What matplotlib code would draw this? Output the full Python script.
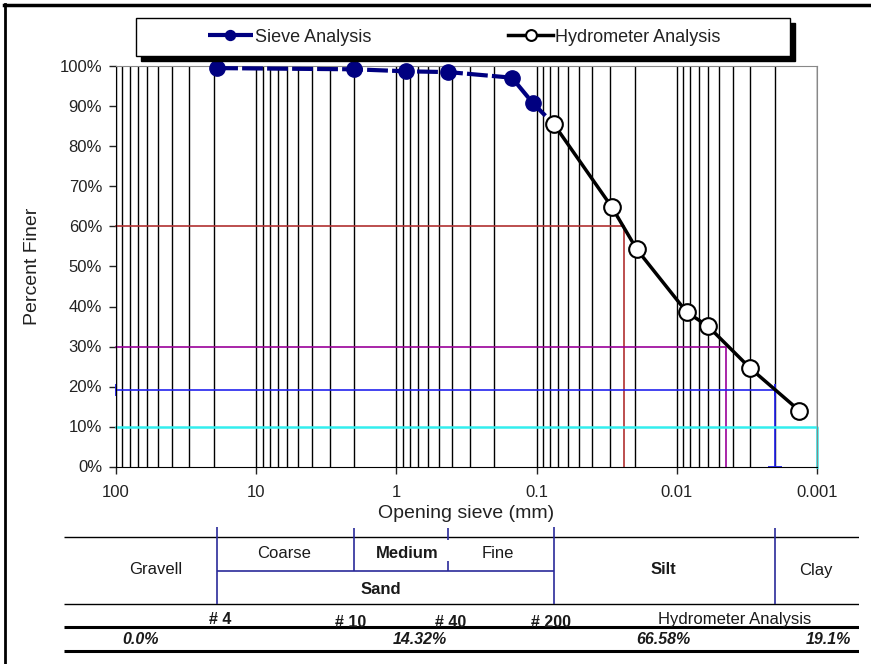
import matplotlib
matplotlib.use('Agg')
import matplotlib.pyplot as plt
import matplotlib.ticker as mticker
from matplotlib.lines import Line2D
from matplotlib.patches import Rectangle

plt.rcParams['font.family'] = ['Liberation Sans', 'DejaVu Sans']

# sieve analysis (mm, % finer)
sieve_mm = [19.0, 2.0, 0.85, 0.425, 0.15, 0.106, 0.075]
sieve_pct = [99.6, 99.3, 98.8, 98.6, 97.2, 90.8, 85.5]

# hydrometer analysis
hydro_mm = [0.075, 0.029, 0.0193, 0.0085, 0.006, 0.003, 0.00134]
hydro_pct = [85.5, 64.8, 54.3, 38.6, 35.1, 24.6, 14.0]

# D60 / D30 / clay fraction / D10 guide lines
ref_pct = [60, 30, 19.1, 10]
ref_mm = [0.0238, 0.00446, 0.002, 0.001]
ref_colors = ['#b03030', '#990099', '#2222ee', '#33eeee']

# classification table
bounds_mm = [19.0, 2.0, 0.425, 0.075, 0.002]
sieve_names = ['# 4', '# 10', '# 40', '# 200']
fractions = ['0.0%', '14.32%', '66.58%', '19.1%']

xticks = [100, 10, 1, 0.1, 0.01, 0.001]
xtick_labels = ['100', '10', '1', '0.1', '0.01', '0.001']
yticks = list(range(0, 101, 10))

W, H = 871, 664
def fx(px): return px / W
def fy(py): return 1 - py / H

fig = plt.figure(figsize=(W / 100, H / 100), dpi=100)

ax = fig.add_axes([fx(116), fy(466.5), fx(817) - fx(116), (466.5 - 66.5) / H])
ax.set_xscale('log')
ax.set_xlim(100, 0.001)
ax.set_ylim(0, 100)

ax.xaxis.set_major_locator(mticker.FixedLocator(xticks))
ax.xaxis.set_major_formatter(mticker.FixedFormatter(xtick_labels))
ax.xaxis.set_minor_locator(mticker.LogLocator(base=10, subs=range(2, 10), numticks=20))
ax.xaxis.set_minor_formatter(mticker.NullFormatter())
ax.set_yticks(yticks)
ax.set_yticklabels([f'{v}%' for v in yticks])
ax.tick_params(axis='x', which='major', length=5, width=1, direction='out', pad=8, labelsize=12, colors='#222222')
ax.tick_params(axis='x', which='minor', length=0)
ax.tick_params(axis='y', length=5, width=1, direction='out', pad=5, labelsize=12, colors='#222222')
ax.grid(True, which='both', axis='x', color='black', lw=1)
ax.set_axisbelow(True)
for s in ['top', 'right']:
    ax.spines[s].set_color('#888888')
for s in ['left', 'bottom']:
    ax.spines[s].set_color('black')

ax.set_xlabel('Opening sieve (mm)', fontsize=14, labelpad=4, color='#222222')
ax.set_ylabel('Percent Finer', fontsize=14, labelpad=13, color='#222222')

# guide lines
for p, d, c in zip(ref_pct, ref_mm, ref_colors):
    lw = 1.8 if c == '#33eeee' else 1.2
    ax.plot([100, d, d], [p, p, 0], color=c, lw=lw, zorder=2, clip_on=False)
ax.plot([100, ref_mm[2]], [ref_pct[2], ref_pct[2]], ls='none', marker='|', ms=8, mew=1.3,
        color=ref_colors[2], zorder=2, clip_on=False)
ax.plot([ref_mm[2]], [0], ls='none', marker='_', ms=10, mew=1.3, color=ref_colors[2], zorder=2, clip_on=False)

ax.plot(sieve_mm, sieve_pct, color='#000080', lw=3, ls=(0, (5, 1)), marker='o', ms=11,
        mec='#000080', mfc='#000080', zorder=4, clip_on=False, label='Sieve Analysis')
ax.plot(hydro_mm, hydro_pct, color='black', lw=2.5, marker='o', ms=12, mfc='white',
        mec='black', mew=1.5, zorder=5, clip_on=False, label='Hydrometer Analysis')

# legend box with shadow
fig.add_artist(Rectangle((fx(141), fy(61)), fx(790) - fx(136), (56 - 18) / H,
                         transform=fig.transFigure, fc='black', ec='black', zorder=9))
fig.add_artist(Rectangle((fx(136), fy(56)), fx(790) - fx(136), (56 - 18) / H,
                         transform=fig.transFigure, fc='white', ec='black', lw=1, zorder=10))
handles, labels = ax.get_legend_handles_labels()
leg = fig.legend(handles, labels, loc='center', bbox_to_anchor=(fx(464), fy(37)),
                 ncol=2, frameon=False, fontsize=13, handlelength=2.5, handletextpad=0.1,
                 columnspacing=7.6, markerscale=0.65)
leg.set_zorder(11)
for t in leg.get_texts():
    t.set_color('#222222')

# classification table below the axis
dec = (817 - 116) / 5
tab = fig.add_axes([fx(64), fy(655), fx(859) - fx(64), (655 - 525) / H])
tab.set_xscale('log')
xl = 100 * 10 ** ((116 - 64) / dec)
xr = 0.001 / 10 ** ((859 - 817) / dec)
tab.set_xlim(xl, xr)
tab.set_ylim(655, 525)
tab.axis('off')

tab.hlines([537, 604], xr, xl, color='black', lw=1)
tab.hlines([627, 651], xr, xl, color='black', lw=2.2)
blue = '#2a2a9a'
tab.hlines(571, bounds_mm[3], bounds_mm[0], color=blue, lw=1.2)
tab.vlines(bounds_mm[0], 527, 604, color=blue, lw=1.2)
tab.vlines(bounds_mm[1], 528, 571, color=blue, lw=1.2)
tab.vlines(bounds_mm[2], 528, 540, color=blue, lw=1.2)
tab.vlines(bounds_mm[2], 561, 571, color=blue, lw=1.2)
tab.vlines(bounds_mm[3], 527, 604, color=blue, lw=1.2)
tab.vlines(bounds_mm[4], 528, 604, color=blue, lw=1.2)

tc = '#1a1a1a'
tab.text(52, 570, 'Gravell', ha='center', va='center', fontsize=12, color=tc)
tab.text(6.3, 553, 'Coarse', ha='center', va='center', fontsize=12, color=tc)
tab.text(0.84, 553, 'Medium', ha='center', va='center', fontsize=12, fontweight='bold', color=tc)
tab.text(0.19, 553, 'Fine', ha='center', va='center', fontsize=12, color=tc)
tab.text(1.29, 589, 'Sand', ha='center', va='center', fontsize=12, fontweight='bold', color=tc)
tab.text(0.0125, 570, 'Silt', ha='center', va='center', fontsize=12, fontweight='bold', color=tc)
tab.text(0.00102, 570, 'Clay', ha='center', va='center', fontsize=12, color=tc)

for name, x, y in zip(sieve_names, [18, 2.12, 0.41, 0.079], [624, 627, 627, 627]):
    tab.text(x, y, name, ha='center', va='baseline', fontsize=11.5, fontweight='bold', color=tc)
tab.text(0.00385, 624, 'Hydrometer Analysis', ha='center', va='baseline', fontsize=12, color=tc)

for s, x, ha in zip(fractions, [67, 0.68, 0.0125, 0.00057], ['center', 'center', 'center', 'right']):
    tab.text(x, 639, s, ha=ha, va='center', fontsize=11.5, fontweight='bold', style='italic', color=tc)

# outer frame
fig.add_artist(Line2D([fx(5), fx(5)], [0, fy(4)], transform=fig.transFigure, color='black', lw=2))
fig.add_artist(Line2D([fx(4), 1], [fy(5), fy(5)], transform=fig.transFigure, color='black', lw=2.5))

fig.savefig('out.png', dpi=100)
